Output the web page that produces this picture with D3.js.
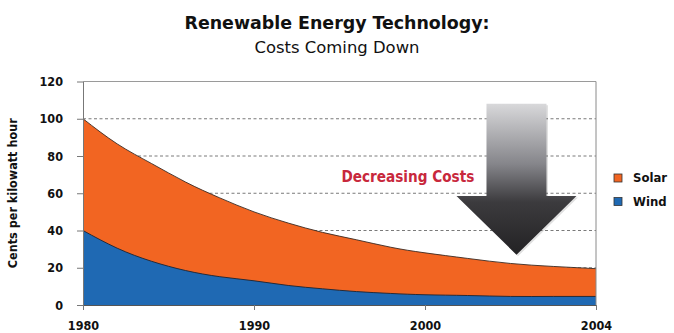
<!DOCTYPE html>
<html>
<head>
<meta charset="utf-8">
<script src="https://cdn.jsdelivr.net/npm/d3@7"></script>
<style>
  body { margin: 0; background: #fff; }
  text { font-family: "DejaVu Sans Condensed", "DejaVu Sans", sans-serif; }
</style>
</head>
<body>
<div id="wrapper"></div>
<script>
const years = [1980, 1982, 1984, 1986, 1988, 1990, 1992, 1994, 1996, 1998, 2000, 2001, 2002, 2003, 2004]
const solar = [100, 86.5, 76, 66, 57.5, 50, 44, 39, 35, 31, 28, 25, 22.3, 20.7, 19.5]
const wind = [40, 30.5, 23.5, 18.5, 15.2, 13, 10.5, 8.7, 7.2, 6.2, 5.5, 5.1, 4.6, 4.6, 4.6]
const xTicks = [1980, 1990, 2000, 2004]
const yTicks = [0, 20, 40, 60, 80, 100, 120]
const seriesNames = ['Solar', 'Wind']
const seriesColors = ['#f26522', '#1f69b3']

const drawChart = () => {
    const dimensions = {
        width: 674,
        height: 333,
        margin: { top: 81.5, right: 78, bottom: 28, left: 83 }
    }
    dimensions.boundedWidth = dimensions.width - dimensions.margin.left - dimensions.margin.right
    dimensions.boundedHeight = dimensions.height - dimensions.margin.top - dimensions.margin.bottom

    const wrapper = d3.select('#wrapper')
        .append('svg')
        .attr('width', dimensions.width)
        .attr('height', dimensions.height)

    const defs = wrapper.append('defs')
    const grad = defs.append('linearGradient')
        .attr('id', 'arrowGrad')
        .attr('x1', 0).attr('y1', 0).attr('x2', 0).attr('y2', 1)
    grad.append('stop').attr('offset', '0%').attr('stop-color', '#d8d8da')
    grad.append('stop').attr('offset', '40%').attr('stop-color', '#85858a')
    grad.append('stop').attr('offset', '65%').attr('stop-color', '#3c3b3e')
    grad.append('stop').attr('offset', '100%').attr('stop-color', '#232224')

    // titles
    wrapper.append('text')
        .text('Renewable Energy Technology:')
        .attr('x', dimensions.width / 2)
        .attr('y', 29)
        .attr('text-anchor', 'middle')
        .attr('textLength', 305)
        .attr('lengthAdjust', 'spacingAndGlyphs')
        .style('font-size', '17px')
        .style('font-weight', 'bold')
        .attr('fill', '#111')

    wrapper.append('text')
        .text('Costs Coming Down')
        .attr('x', dimensions.width / 2)
        .attr('y', 53)
        .attr('text-anchor', 'middle')
        .attr('textLength', 165)
        .attr('lengthAdjust', 'spacingAndGlyphs')
        .style('font-size', '15px')
        .attr('fill', '#111')

    const bounds = wrapper.append('g')
        .attr('transform', `translate(${dimensions.margin.left}, ${dimensions.margin.top})`)

    const w = dimensions.boundedWidth
    const scaleX = d3.scaleLinear()
        .domain(xTicks)
        .range([0, w / 3, 2 * w / 3, w])

    const scaleY = d3.scaleLinear()
        .domain([0, 120])
        .range([dimensions.boundedHeight, 0])

    // dashed grid
    bounds.append('g')
        .selectAll('line')
        .data(yTicks.filter(d => d > 0 && d < 120))
        .join('line')
        .attr('x1', 0)
        .attr('x2', w)
        .attr('y1', d => scaleY(d))
        .attr('y2', d => scaleY(d))
        .attr('stroke', '#7a7a7a')
        .attr('stroke-width', 1)
        .attr('stroke-dasharray', '3,2.5')

    const data = years.map((year, i) => ({ year, solar: solar[i], wind: wind[i] }))

    const solarArea = d3.area()
        .x(d => scaleX(d.year))
        .y0(scaleY(0))
        .y1(d => scaleY(d.solar))
        .curve(d3.curveNatural)
    const windArea = d3.area()
        .x(d => scaleX(d.year))
        .y0(scaleY(0))
        .y1(d => scaleY(d.wind))
        .curve(d3.curveNatural)

    bounds.append('path')
        .datum(data)
        .attr('d', solarArea)
        .attr('fill', seriesColors[0])
    bounds.append('path')
        .datum(data)
        .attr('d', solarArea.lineY1())
        .attr('fill', 'none')
        .attr('stroke', '#3a2a22')
        .attr('stroke-width', 0.9)

    bounds.append('path')
        .datum(data)
        .attr('d', windArea)
        .attr('fill', seriesColors[1])
    bounds.append('path')
        .datum(data)
        .attr('d', windArea.lineY1())
        .attr('fill', 'none')
        .attr('stroke', '#1e2430')
        .attr('stroke-width', 0.9)

    // frame top and right
    bounds.append('line')
        .attr('x1', 0).attr('x2', w)
        .attr('y1', scaleY(120)).attr('y2', scaleY(120))
        .attr('stroke', '#9a9a9a')
    bounds.append('line')
        .attr('x1', w).attr('x2', w)
        .attr('y1', scaleY(120)).attr('y2', dimensions.boundedHeight)
        .attr('stroke', '#8a8a8a')

    // arrow annotation
    const arrowYear = 2002.14
    const cx = scaleX(arrowYear)
    const top = scaleY(108)
    const headBase = scaleY(58.5)
    const tip = scaleY(27)
    const shaftHalf = 30
    const headHalf = 60
    const arrowPath = d3.path()
    arrowPath.moveTo(cx - shaftHalf, top)
    arrowPath.lineTo(cx + shaftHalf, top)
    arrowPath.lineTo(cx + shaftHalf, headBase)
    arrowPath.lineTo(cx + headHalf, headBase)
    arrowPath.lineTo(cx, tip)
    arrowPath.lineTo(cx - headHalf, headBase)
    arrowPath.lineTo(cx - shaftHalf, headBase)
    arrowPath.closePath()

    bounds.append('path')
        .attr('d', arrowPath.toString())
        .attr('transform', 'translate(1.5, 1.5)')
        .attr('fill', '#000')
        .attr('opacity', 0.12)
    bounds.append('path')
        .attr('d', arrowPath.toString())
        .attr('fill', 'url(#arrowGrad)')

    bounds.append('text')
        .text('Decreasing Costs')
        .attr('x', scaleX(1999.0))
        .attr('y', scaleY(66))
        .attr('text-anchor', 'middle')
        .attr('textLength', 133)
        .attr('lengthAdjust', 'spacingAndGlyphs')
        .style('font-size', '15px')
        .style('font-weight', 'bold')
        .attr('fill', '#c8283c')

    // axes
    const yAxisGenerator = d3.axisLeft(scaleY)
        .tickValues(yTicks)
        .tickSizeInner(6)
        .tickSizeOuter(0)
        .tickPadding(14)
    const yAxis = bounds.append('g').call(yAxisGenerator)
    yAxis.select('.domain').attr('stroke', '#777')
    yAxis.selectAll('.tick line').attr('stroke', '#777')
    yAxis.selectAll('text')
        .style('font-size', '12.5px')
        .style('font-weight', 'bold')
        .attr('fill', '#111')

    const xAxisGenerator = d3.axisBottom(scaleX)
        .tickValues(xTicks)
        .tickFormat(d3.format('d'))
        .tickSizeInner(5)
        .tickSizeOuter(0)
        .tickPadding(11)
    const xAxis = bounds.append('g')
        .attr('transform', `translate(0, ${dimensions.boundedHeight})`)
        .call(xAxisGenerator)
    xAxis.select('.domain').attr('stroke', '#555')
    xAxis.selectAll('.tick line').attr('stroke', '#777')
    xAxis.selectAll('text')
        .style('font-size', '12.5px')
        .style('font-weight', 'bold')
        .attr('fill', '#111')

    // y axis title
    wrapper.append('text')
        .text('Cents per kilowatt hour')
        .attr('transform', `translate(17, ${dimensions.margin.top + dimensions.boundedHeight / 2}) rotate(-90)`)
        .attr('text-anchor', 'middle')
        .style('font-size', '12.5px')
        .style('font-weight', 'bold')
        .attr('fill', '#111')

    // legend
    const legend = wrapper.append('g')
        .attr('transform', 'translate(614, 174)')
    const legendItems = legend.selectAll('g')
        .data(seriesNames)
        .join('g')
        .attr('transform', (d, i) => `translate(0, ${i * 23.5})`)
    legendItems.append('rect')
        .attr('width', 8)
        .attr('height', 8)
        .attr('fill', (d, i) => seriesColors[i])
        .attr('stroke', '#333')
        .attr('stroke-width', 0.8)
    legendItems.append('text')
        .text(d => d)
        .attr('x', 19)
        .attr('y', 8)
        .style('font-size', '13px')
        .style('font-weight', 'bold')
        .attr('fill', '#111')
}
drawChart()
</script>
</body>
</html>
